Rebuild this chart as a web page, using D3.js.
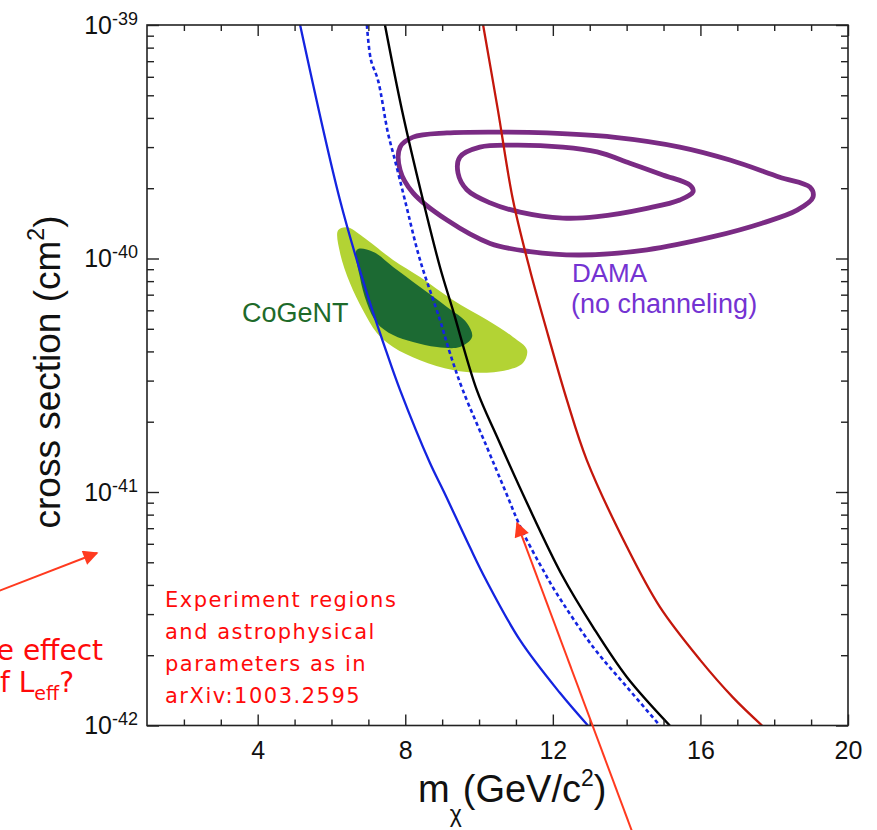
<!DOCTYPE html>
<html><head><meta charset="utf-8">
<script src="https://cdn.jsdelivr.net/npm/d3@7"></script>
<style>
html,body{margin:0;padding:0;background:#fff;}
svg{display:block;}
</style></head>
<body>
<svg id="chart" width="877" height="830"></svg>
<script>
// WIMP mass (GeV/c^2) vs spin-independent cross section (cm^2)
const massMajorTicks = [4, 8, 12, 16, 20];
const massMinorTicks = [2, 3, 5, 6, 7, 9, 10, 11, 13, 14, 15, 17, 18, 19];
const sigmaDecades = [1e-42, 1e-41, 1e-40, 1e-39];
const sigmaExponents = ["-42", "-41", "-40", "-39"];
const minorMultipliers = [2, 3, 4, 5, 6, 7, 8, 9];

// exclusion limits: [mass, cross section]
const limitBlue = [[5.15,1.0e-39],[6.23,1.78e-40],[6.96,7.11e-41],[7.50,3.94e-41],[7.86,2.73e-41],
  [8.67,1.33e-41],[9.05,1.0e-41],[9.75,5.81e-42],[10.19,4.20e-42],[11.11,2.32e-42],[12.19,1.38e-42],[12.95,1.0e-42]];
const limitBlueDashed = [[6.96,1.0e-39],[7.07,7.08e-40],[7.26,5.81e-40],[7.53,3.45e-40],[7.72,2.64e-40],
  [7.99,1.78e-40],[8.40,9.86e-41],[8.94,5.46e-41],[9.21,3.94e-41],[9.56,2.73e-41],[10.21,1.56e-41],
  [10.70,1.02e-41],[11.16,6.87e-42],[11.78,4.50e-42],[12.08,3.73e-42],[13.09,2.17e-42],[14.01,1.46e-42],[14.90,1.0e-42]];
const limitBlack = [[7.45,1.0e-39],[7.91,4.33e-40],[8.48,1.78e-40],[8.94,9.20e-41],[9.29,6.02e-41],
  [9.94,2.73e-41],[10.49,1.72e-41],[11.30,8.97e-42],[12.25,4.40e-42],[13.09,2.64e-42],[14.01,1.61e-42],[15.17,1.0e-42]];
const limitRed = [[10.11,1.0e-39],[10.51,4.33e-40],[10.92,1.78e-40],[11.38,8.93e-41],[11.87,4.70e-41],
  [12.38,2.48e-41],[12.92,1.37e-41],[14.01,5.81e-42],[14.90,3.22e-42],[15.99,1.91e-42],[16.88,1.32e-42],[17.67,1.0e-42]];

// CoGeNT allowed regions
const cogentOuter = [[6.18,1.32e-40],[6.42,1.36e-40],[6.85,1.24e-40],[7.67,9.86e-41],[8.40,8.33e-41],
  [9.29,6.64e-41],[10.21,5.46e-41],[10.92,4.61e-41],[11.30,4.06e-41],[11.19,3.57e-41],[10.76,3.33e-41],
  [10.02,3.24e-41],[9.29,3.33e-41],[8.40,3.67e-41],[7.67,4.18e-41],[7.23,4.80e-41],[6.85,6.02e-41],
  [6.50,7.85e-41],[6.23,1.06e-40]];
const cogentInner = [[6.69,1.09e-40],[7.12,1.07e-40],[7.67,9.20e-41],[8.40,7.55e-41],[9.13,6.20e-41],
  [9.67,5.30e-41],[9.81,4.61e-41],[9.48,4.18e-41],[8.86,4.18e-41],[8.21,4.39e-41],[7.67,4.70e-41],
  [7.23,5.30e-41],[6.96,6.45e-41],[6.77,8.33e-41]];

// DAMA contours (no channeling)
const damaOuter = [[7.86,3.00e-40],[8.21,3.31e-40],[9.13,3.45e-40],[10.49,3.48e-40],[11.84,3.45e-40],
  [13.63,3.31e-40],[15.44,3.00e-40],[16.80,2.64e-40],[18.15,2.23e-40],[18.97,2.02e-40],[19.05,1.83e-40],
  [18.62,1.61e-40],[17.69,1.42e-40],[16.34,1.24e-40],[14.55,1.09e-40],[12.73,1.035e-40],[11.38,1.07e-40],
  [10.30,1.16e-40],[9.13,1.46e-40],[8.21,1.91e-40],[7.86,2.39e-40]];
const damaInner = [[9.48,2.72e-40],[10.02,3.00e-40],[10.92,3.06e-40],[12.27,3.00e-40],[13.20,2.86e-40],
  [14.09,2.56e-40],[14.98,2.28e-40],[15.72,2.06e-40],[15.80,1.93e-40],[15.44,1.78e-40],[14.55,1.64e-40],
  [13.20,1.51e-40],[12.27,1.49e-40],[11.11,1.58e-40],[10.30,1.73e-40],[9.67,1.97e-40],[9.43,2.32e-40]];

const noteLines = ["Experiment regions", "and astrophysical", "parameters as in", "arXiv:1003.2595"];
const arrowTip = [11.03, 7.36e-42];

const plot = {left: 147, right: 848, top: 25, bottom: 725.5};
const axisFont = "'Liberation Sans', Arial, Helvetica, sans-serif";
const noteFont = "'DejaVu Sans', 'Noto Sans', sans-serif";

const svg = d3.select("#chart");
const x = d3.scaleLinear().domain([1, 20]).range([plot.left, plot.right]);
const y = d3.scaleLog().domain([1e-42, 1e-39]).range([plot.bottom, plot.top]);

const minorSigma = [];
sigmaDecades.slice(0, 3).forEach(d => minorMultipliers.forEach(k => minorSigma.push(k * d)));

const defs = svg.append("defs");
defs.append("clipPath").attr("id", "plotClip").append("rect")
  .attr("x", plot.left).attr("y", plot.top)
  .attr("width", plot.right - plot.left).attr("height", plot.bottom - plot.top);
defs.append("marker").attr("id", "head").attr("viewBox", "0 0 10 10")
  .attr("refX", 9).attr("refY", 5).attr("markerWidth", 8).attr("markerHeight", 7.5)
  .attr("markerUnits", "strokeWidth").attr("orient", "auto")
  .append("path").attr("d", "M0,0 L10,5 L0,10 Z").attr("fill", "#ff3a1f");

const g = svg.append("g").attr("clip-path", "url(#plotClip)");
const line = d3.line().x(d => x(d[0])).y(d => y(d[1])).curve(d3.curveCatmullRom.alpha(0.5));
const loop = d3.line().x(d => x(d[0])).y(d => y(d[1])).curve(d3.curveCatmullRomClosed.alpha(0.5));

// CoGeNT regions
g.append("path").attr("d", loop(cogentOuter)).attr("fill", "#b3d334");
g.append("path").attr("d", loop(cogentInner)).attr("fill", "#1c6a33");

// DAMA contours
[damaOuter, damaInner].forEach(c => g.append("path").attr("d", loop(c))
  .attr("fill", "none").attr("stroke", "#7a2b84").attr("stroke-width", 4.8));

// exclusion curves
g.append("path").attr("d", line(limitBlue)).attr("fill", "none").attr("stroke", "#1424e0").attr("stroke-width", 2.3);
g.append("path").attr("d", line(limitBlueDashed)).attr("fill", "none").attr("stroke", "#1424e0")
  .attr("stroke-width", 2.6).attr("stroke-dasharray", "4,3");
g.append("path").attr("d", line(limitBlack)).attr("fill", "none").attr("stroke", "#000").attr("stroke-width", 2.4);
g.append("path").attr("d", line(limitRed)).attr("fill", "none").attr("stroke", "#c4170c").attr("stroke-width", 2.3);

// frame and ticks
const frame = svg.append("g");
frame.append("rect").attr("x", plot.left).attr("y", plot.top)
  .attr("width", plot.right - plot.left).attr("height", plot.bottom - plot.top)
  .attr("fill", "none").attr("stroke", "#222").attr("stroke-width", 1.6);

function styleAxis(sel) {
  sel.select(".domain").remove();
  sel.selectAll(".tick line").attr("stroke", "#222").attr("stroke-width", 1.4);
}

const bottomMajor = frame.append("g").attr("transform", `translate(0,${plot.bottom})`)
  .call(d3.axisBottom(x).tickValues(massMajorTicks).tickSize(-11).tickPadding(16).tickFormat(d3.format("d")));
styleAxis(bottomMajor);
bottomMajor.selectAll("text").attr("font-family", axisFont).attr("font-size", 25).attr("fill", "#111");
frame.append("g").attr("transform", `translate(0,${plot.bottom})`)
  .call(d3.axisBottom(x).tickValues(massMinorTicks).tickSize(-6).tickFormat("")).call(styleAxis);
frame.append("g").attr("transform", `translate(0,${plot.top})`)
  .call(d3.axisTop(x).tickValues(massMajorTicks).tickSize(-11).tickFormat("")).call(styleAxis);
frame.append("g").attr("transform", `translate(0,${plot.top})`)
  .call(d3.axisTop(x).tickValues(massMinorTicks).tickSize(-6).tickFormat("")).call(styleAxis);

const leftMajor = frame.append("g").attr("transform", `translate(${plot.left},0)`)
  .call(d3.axisLeft(y).tickValues(sigmaDecades).tickSize(-12).tickPadding(9).tickFormat(""));
styleAxis(leftMajor);
leftMajor.selectAll(".tick text").each(function(d) {
  const t = d3.select(this).attr("font-family", axisFont).attr("fill", "#111").attr("font-size", 25);
  t.append("tspan").text("10");
  t.append("tspan").attr("dy", "-0.5em").attr("font-size", 18).text(sigmaExponents[sigmaDecades.indexOf(d)]);
});
frame.append("g").attr("transform", `translate(${plot.left},0)`)
  .call(d3.axisLeft(y).tickValues(minorSigma).tickSize(-7).tickFormat("")).call(styleAxis);
frame.append("g").attr("transform", `translate(${plot.right},0)`)
  .call(d3.axisRight(y).tickValues(sigmaDecades).tickSize(-12).tickFormat("")).call(styleAxis);
frame.append("g").attr("transform", `translate(${plot.right},0)`)
  .call(d3.axisRight(y).tickValues(minorSigma).tickSize(-7).tickFormat("")).call(styleAxis);

// axis titles
const xt = svg.append("text").attr("x", 418).attr("y", 802)
  .attr("font-family", axisFont).attr("font-size", 38).attr("fill", "#111");
xt.append("tspan").text("m");
xt.append("tspan").attr("font-size", 23).attr("dy", 20).text("\u03c7");
xt.append("tspan").attr("dy", -20).attr("dx", 1).text("(GeV/c");
xt.append("tspan").attr("font-size", 23).attr("dy", -16).text("2");
xt.append("tspan").attr("dy", 16).text(")");

const yt = svg.append("text").attr("transform", "translate(60,372) rotate(-90)")
  .attr("text-anchor", "middle").attr("font-family", axisFont).attr("font-size", 37).attr("fill", "#111");
yt.append("tspan").text("cross section (cm");
yt.append("tspan").attr("font-size", 23).attr("dy", -16).text("2");
yt.append("tspan").attr("dy", 16).text(")");

// region labels
svg.append("text").attr("x", 242).attr("y", 322).attr("font-family", axisFont).attr("font-size", 27)
  .attr("fill", "#1e6a2a").text("CoGeNT");
svg.append("text").attr("x", 572).attr("y", 282).attr("font-family", axisFont).attr("font-size", 26)
  .attr("fill", "#7433d2").text("DAMA");
svg.append("text").attr("x", 571).attr("y", 313).attr("font-family", axisFont).attr("font-size", 27)
  .attr("fill", "#7433d2").text("(no channeling)");

// annotations
const note = svg.append("text").attr("font-family", noteFont).attr("font-size", 21)
  .attr("fill", "#ff0a0a").attr("letter-spacing", 1.5);
noteLines.forEach((s, i) => note.append("tspan").attr("x", 165).attr("y", 607 + i * 32).text(s));

svg.append("text").attr("x", 103).attr("y", 660).attr("text-anchor", "end").attr("font-family", noteFont)
  .attr("font-size", 28).attr("fill", "#ff0a0a").text("the effect");
const q = svg.append("text").attr("x", 74).attr("y", 692).attr("text-anchor", "end").attr("font-family", noteFont)
  .attr("font-size", 28).attr("fill", "#ff0a0a");
q.append("tspan").text("of L");
q.append("tspan").attr("font-size", 19).attr("dy", 8).text("eff");
q.append("tspan").attr("dy", -8).text("?");

svg.append("line").attr("x1", -4).attr("y1", 592).attr("x2", 97).attr("y2", 553)
  .attr("stroke", "#ff3a1f").attr("stroke-width", 2).attr("marker-end", "url(#head)");
svg.append("line").attr("x1", 633).attr("y1", 834).attr("x2", x(arrowTip[0])).attr("y2", y(arrowTip[1]))
  .attr("stroke", "#ff3a1f").attr("stroke-width", 2).attr("marker-end", "url(#head)");
</script>
</body></html>
